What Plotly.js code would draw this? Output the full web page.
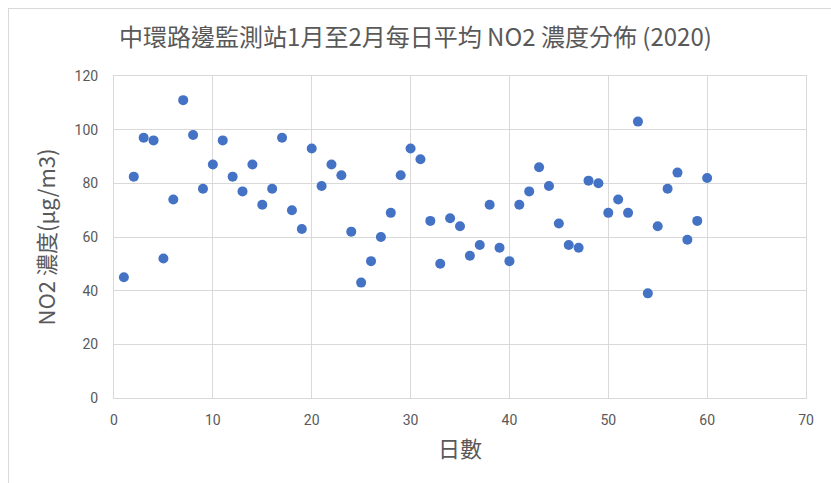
<!DOCTYPE html>
<html>
<head>
<meta charset="utf-8">
<script src="https://cdn.plot.ly/plotly-3.0.1.min.js"></script>
<style>
html,body{margin:0;padding:0;background:#fff;}
#wrap{position:relative;width:831px;height:483px;}
#chart{position:absolute;left:0;top:0;width:831px;height:483px;}
#frame{position:absolute;left:8px;top:8px;width:840px;height:490px;border-left:1px solid #d9d9d9;border-top:1px solid #d9d9d9;pointer-events:none;}
</style>
</head>
<body>
<div id="wrap"><div id="chart"></div><div id="frame"></div></div>
<script>
const days = [1,2,3,4,5,6,7,8,9,10,11,12,13,14,15,16,17,18,19,20,21,22,23,24,25,26,27,28,29,30,31,32,33,34,35,36,37,38,39,40,41,42,43,44,45,46,47,48,49,50,51,52,53,54,55,56,57,58,59,60];
const no2 = [45,82.5,97,96,52,74,111,98,78,87,96,82.5,77,87,72,78,97,70,63,93,79,87,83,62,43,51,60,69,83,93,89,66,50,67,64,53,57,72,56,51,72,77,86,79,65,57,56,81,80,69,74,69,103,39,64,78,84,59,66,82];
const titleText = '中環路邊監測站1月至2月每日平均 NO2 濃度分佈 (2020)';
const xTitle = '日數';
const yTitle = 'NO2 濃度(μg/m3)';
const xTicks = [0,10,20,30,40,50,60,70];
const yTicks = [0,20,40,60,80,100,120];

const cjk = '"Noto Sans CJK TC", "Noto Sans", sans-serif';
const tickFont = {family: 'Roboto, "Noto Sans", sans-serif', size: 14, color: '#595959'};

Plotly.newPlot('chart', [{
  x: days, y: no2, type: 'scatter', mode: 'markers',
  marker: {color: '#4472C4', size: 10}
}], {
  width: 831, height: 483,
  margin: {l: 114, r: 25, t: 76, b: 85},
  paper_bgcolor: '#ffffff', plot_bgcolor: '#ffffff',
  showlegend: false,
  title: {text: titleText, x: 0.5, xanchor: 'center', y: 0.922, yanchor: 'middle',
    font: {family: cjk, size: 24, color: '#595959'}},
  xaxis: {range: [0,70], tickvals: xTicks, ticktext: xTicks.map(String), showgrid: true, gridcolor: '#d9d9d9',
    showline: true, linecolor: '#d9d9d9', mirror: true, zeroline: false, ticks: '', ticklabelstandoff: 9,
    tickfont: tickFont,
    title: {text: xTitle, font: {family: cjk, size: 22, color: '#595959'}, standoff: 14}},
  yaxis: {range: [0,120], tickvals: yTicks, ticktext: yTicks.map(String), showgrid: true, gridcolor: '#d9d9d9',
    showline: true, linecolor: '#d9d9d9', mirror: true, zeroline: false, ticks: '', ticklabelstandoff: 12,
    tickfont: tickFont,
    title: {text: yTitle, font: {family: cjk, size: 22, color: '#595959'}, standoff: 12}}
}, {displayModeBar: false, staticPlot: true});
</script>
</body>
</html>
